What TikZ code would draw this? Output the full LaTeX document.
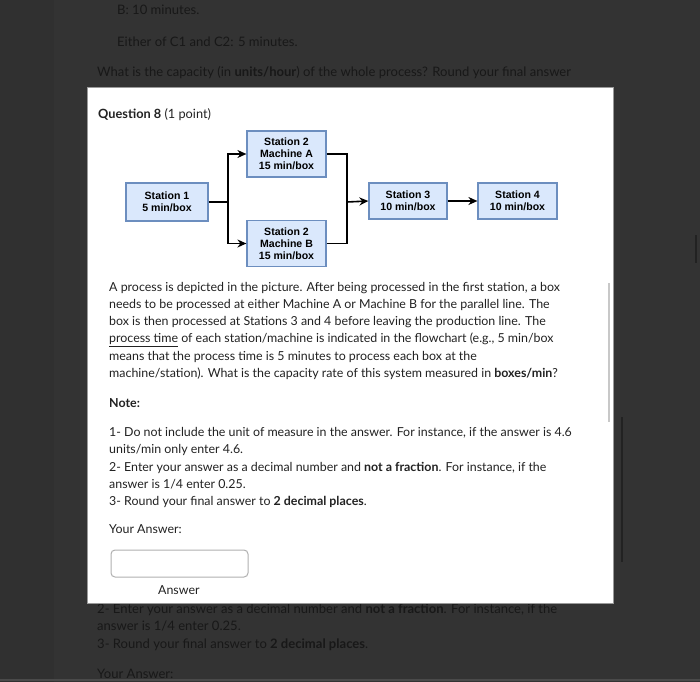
\documentclass[tikz,border=0pt]{standalone}
\usepackage{fontspec}
\setmainfont{Lato}
\newfontfamily\diag{Liberation Sans}
\usetikzlibrary{arrows.meta}
\definecolor{bgdark}{HTML}{333333}
\definecolor{bgside}{HTML}{303030}
\definecolor{bgtext}{HTML}{181818}
\definecolor{bodytext}{HTML}{222222}
\definecolor{boxfill}{HTML}{DAE8FC}
\definecolor{boxline}{HTML}{6C8EBF}
\definecolor{modalline}{HTML}{9A9A9A}
\definecolor{inputline}{HTML}{B0B0B0}
\definecolor{scrolllight}{HTML}{C8C8C8}
\definecolor{scrolldark}{HTML}{222222}
\definecolor{bottomline}{HTML}{4A4A4A}
\tikzset{
  bgtxt/.style={anchor=base west, inner sep=0, text=bgtext, font=\fontsize{13.1}{15}\selectfont},
  body/.style={anchor=base west, inner sep=0, text=bodytext, font=\fontsize{12.45}{14}\selectfont},
  stationbox/.style={draw=boxline, fill=boxfill, line width=1.2bp, align=center, inner sep=0,
    font=\diag\bfseries\fontsize{10.6}{12}\selectfont},
  flow/.style={line width=1.6bp, draw=black},
  flowarrow/.style={flow, -{Stealth[length=9bp,width=8bp]}},
}
\begin{document}
\begin{tikzpicture}[x=1bp,y=-1bp]
\useasboundingbox (0,0) rectangle (700,682);
% background page
\fill[bgside] (0,0) rectangle (700,682);
\fill[bgdark] (54,0) rectangle (700,682);
\draw[bottomline, line width=2bp] (0,680) -- (700,680);
\node[bgtxt] (b1) at (117,14.5) {B: 10 minutes.};
\node[bgtxt] (b2) at (117,46.5) {Either of C1 and C2: 5 minutes.};
\node[bgtxt] (b3) at (97,76.5) {What is the capacity (in \textbf{units/hour}) of the whole process? Round your final answer};
\node[bgtxt] (b4) at (97,613) {2- Enter your answer as a decimal number and \textbf{not a fraction}. For instance, if the};
\node[bgtxt] (b5) at (97,630.5) {answer is 1/4 enter 0.25.};
\node[bgtxt] (b6) at (97,648) {3- Round your final answer to \textbf{2 decimal places}.};
\node[bgtxt] (b7) at (97,678) {Your Answer:};
\draw[scrolldark, line width=2bp] (622,417) -- (622,562);
\draw[scrolldark, line width=2bp] (696,235) -- (696,263);
% modal
\filldraw[fill=white, draw=modalline, line width=0.8bp] (87,87) rectangle (613,603);
\draw[scrolllight, line width=2bp] (609,283) -- (609,422);
\node[body, font=\fontsize{12.8}{15}\selectfont] (q) at (98,118.5) {\textbf{Question 8} (1 point)};
% diagram
\node[stationbox, minimum width=82bp, minimum height=38bp] (s1) at (167,202) {Station 1\\5 min/box};
\node[stationbox, minimum width=79bp, minimum height=46bp] (ma) at (286.5,154) {Station 2\\Machine A\\15 min/box};
\node[stationbox, minimum width=79bp, minimum height=46bp] (mb) at (286.5,243.5) {Station 2\\Machine B\\15 min/box};
\node[stationbox, minimum width=78bp, minimum height=36bp] (s3) at (408,201) {Station 3\\10 min/box};
\node[stationbox, minimum width=79bp, minimum height=36bp] (s4) at (517.5,201) {Station 4\\10 min/box};
\coordinate (jl) at (228,202);
\coordinate (jr) at (347,202);
\draw[flow] (s1.east) -- (jl);
\draw[flowarrow] (jl) |- (ma.west);
\draw[flowarrow] (jl) |- (mb.west);
\draw[flow] (ma.east) -| (jr);
\draw[flow] (mb.east) -| (jr);
\draw[flowarrow] (jr) -- (s3.west);
\draw[flowarrow] (s3.east) -- (s4.west);
% paragraph
\node[body] (p1) at (109,291) {A process is depicted in the picture. After being processed in the first station, a box};
\node[body] (p2) at (109,308.3) {needs to be processed at either Machine A or Machine B for the parallel line. The};
\node[body] (p3) at (109,325.6) {box is then processed at Stations 3 and 4 before leaving the production line. The};
\node[body] (p4) at (109,342.9) {\underline{process time} of each station/machine is indicated in the flowchart (e.g., 5 min/box};
\node[body] (p5) at (109,360.2) {means that the process time is 5 minutes to process each box at the};
\node[body] (p6) at (109,377.5) {machine/station). What is the capacity rate of this system measured in \textbf{boxes/min}?};
\node[body] (n0) at (109,407) {\textbf{Note:}};
\node[body] (n1) at (109,436) {1- Do not include the unit of measure in the answer. For instance, if the answer is 4.6};
\node[body] (n2) at (109,453.5) {units/min only enter 4.6.};
\node[body] (n3) at (109,471) {2- Enter your answer as a decimal number and \textbf{not a fraction}. For instance, if the};
\node[body] (n4) at (109,488) {answer is 1/4 enter 0.25.};
\node[body] (n5) at (109,505) {3- Round your final answer to \textbf{2 decimal places}.};
\node[body] (ya) at (109,533) {Your Answer:};
\draw[inputline, line width=1bp, rounded corners=4bp] (111,550) rectangle (248,577);
\node[body] (al) at (158,594) {Answer};
\end{tikzpicture}
\end{document}
